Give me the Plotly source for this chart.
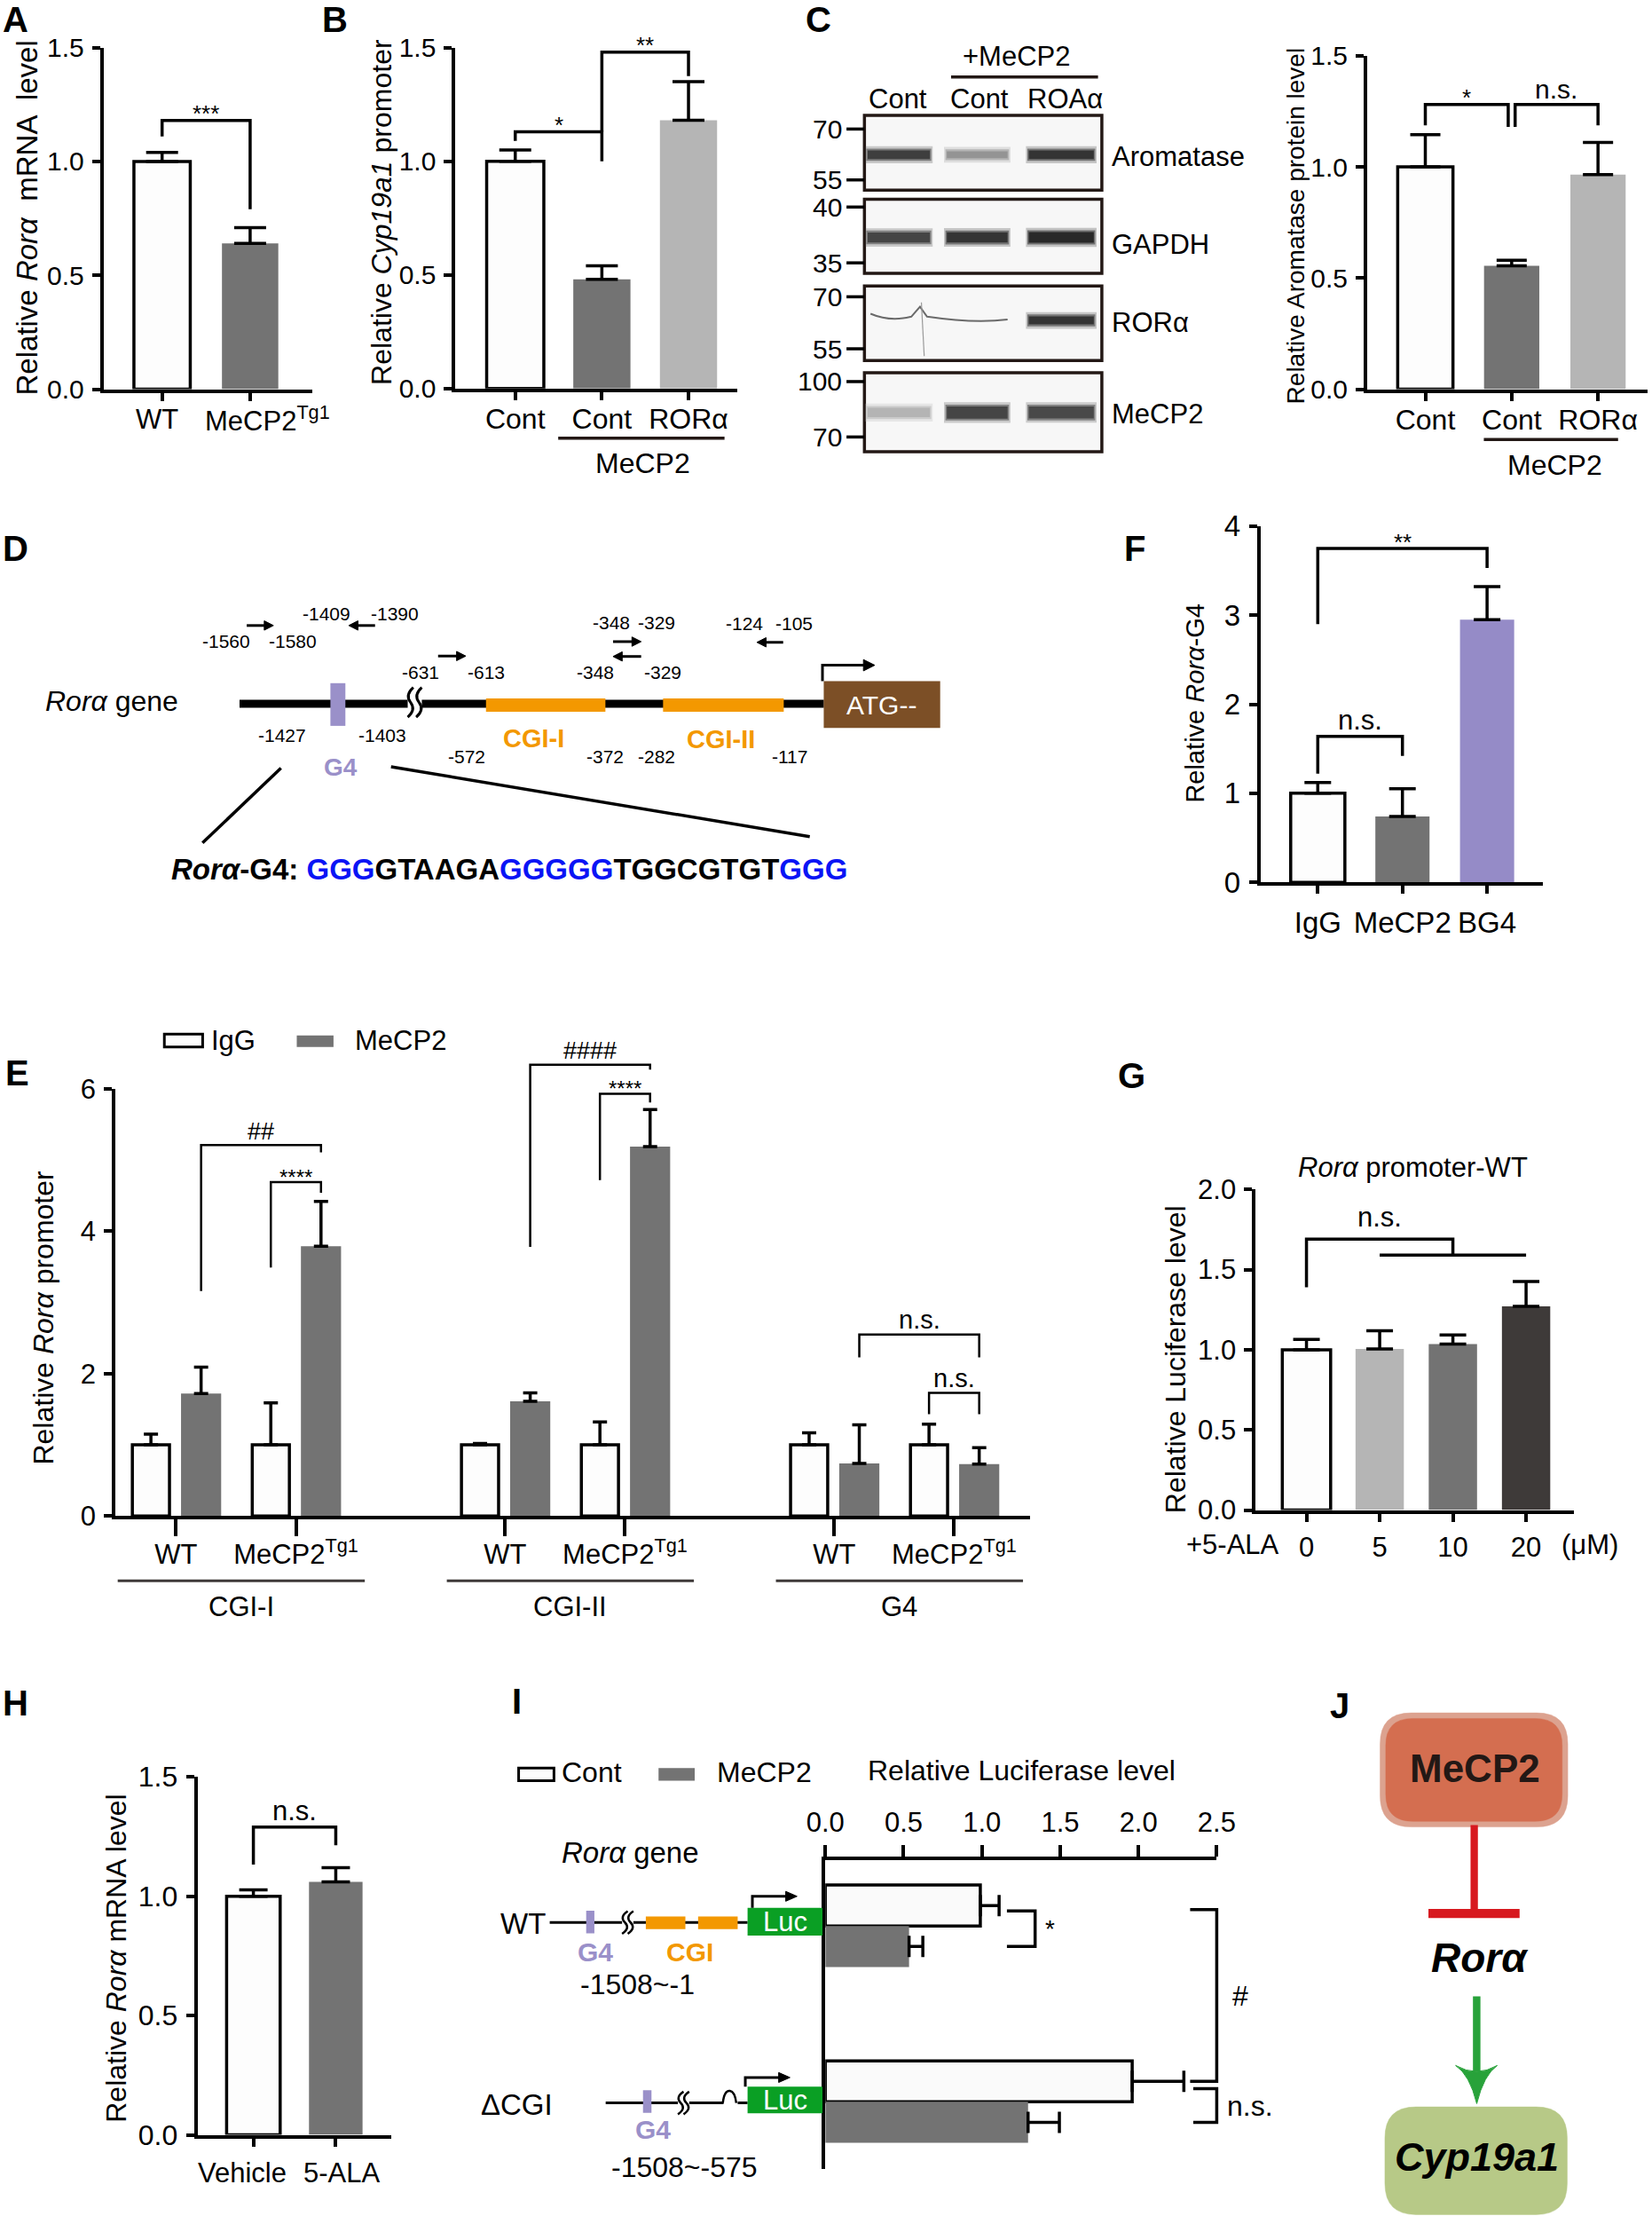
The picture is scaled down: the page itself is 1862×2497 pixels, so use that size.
import plotly.graph_objects as go

W, H = 1862, 2497
RX, RY = 1169.0, 1568.0          # layout grid (reference proportions)


def px(x):
    return x / RX


def py(y):
    return 1.0 - y / RY


def P(x, y):
    return f"{px(x):.6f},{py(y):.6f}"


FONT = "Liberation Sans, Arial, Helvetica, sans-serif"
NARROW = "Liberation Sans Narrow, Arial Narrow, Liberation Sans, Arial, sans-serif"
GRAY = "#737373"
LGRAY = "#B5B5B5"
DGRAY = "#3E3A39"
PURPLE = "#958BC7"
ORANGE = "#F39800"
WHITEBAR = "#FDFDFD"
G4C = "#9A90C9"
LUC = "#0A9F24"
BROWN = "#7C4F26"
BLUE = "#0A14F5"

# ---------------------------------------------------------------- DATA
# A  Relative Rora mRNA level
a_cats = ["WT", "MeCP2<sup>Tg1</sup>"]
a_vals = [1.00, 0.64]
a_sem = [0.04, 0.07]
# B  Relative Cyp19a1 promoter
b_cats = ["Cont", "Cont", "RORα"]
b_vals = [1.00, 0.48, 1.18]
b_sem = [0.05, 0.06, 0.17]
# C  Relative Aromatase protein level + western blot
c_cats = ["Cont", "Cont", "RORα"]
c_vals = [1.00, 0.555, 0.965]
c_sem = [0.145, 0.025, 0.145]
c_lanes = ["Cont", "Cont", "ROAα"]
c_blots = ["Aromatase", "GAPDH", "RORα", "MeCP2"]
c_markers = [["70", "55"], ["40", "35"], ["70", "55"], ["100", "70"]]
c_band_intensity = [[0.85, 0.45, 0.9], [0.82, 0.9, 0.95], [0.0, 0.0, 0.9], [0.3, 0.82, 0.8]]
# F  Relative Rora-G4
f_cats = ["IgG", "MeCP2", "BG4"]
f_vals = [1.00, 0.74, 2.95]
f_sem = [0.12, 0.31, 0.37]
# E  Relative Rora promoter (ChIP)
e_regions = ["CGI-I", "CGI-II", "G4"]
e_genotypes = ["WT", "MeCP2<sup>Tg1</sup>"]
e_antibodies = ["IgG", "MeCP2"]
e_igg = [1.00, 1.00, 1.00, 1.00, 1.00, 1.00]       # CGI-I WT, CGI-I Tg, CGI-II WT, CGI-II Tg, G4 WT, G4 Tg
e_igg_sem = [0.15, 0.59, 0.02, 0.32, 0.17, 0.29]
e_mecp2 = [1.72, 3.79, 1.61, 5.19, 0.74, 0.73]
e_mecp2_sem = [0.37, 0.63, 0.12, 0.52, 0.54, 0.23]
# G  Rora promoter-WT luciferase with 5-ALA
g_doses = ["0", "5", "10", "20"]
g_vals = [1.00, 1.005, 1.035, 1.27]
g_sem = [0.065, 0.113, 0.057, 0.156]
# H  Relative Rora mRNA level
h_cats = ["Vehicle", "5-ALA"]
h_vals = [1.00, 1.06]
h_sem = [0.027, 0.06]
# I  Relative luciferase level by construct
i_constructs = ["WT", "ΔCGI"]
i_cont = [0.99, 1.96]
i_cont_sem = [0.12, 0.33]
i_mecp2 = [0.535, 1.295]
i_mecp2_sem = [0.088, 0.20]

# ---------------------------------------------------------------- helpers
fig = go.Figure()
shapes, annos, axes = [], [], {}


def text(x, y, s, size, color="black", xa="center", ya="middle", angle=0, family=FONT):
    annos.append(dict(x=px(x), y=py(y), xref="paper", yref="paper", text=s, showarrow=False,
                      font=dict(family=family, size=size, color=color),
                      xanchor=xa, yanchor=ya, textangle=angle))


def seg(x0, y0, x1, y1, w=3.5, color="black"):
    shapes.append(dict(type="line", xref="paper", yref="paper", x0=px(x0), y0=py(y0),
                       x1=px(x1), y1=py(y1), line=dict(color=color, width=w)))


def box(x0, y0, x1, y1, fill, lc=None, lw=0, opacity=1.0):
    shapes.append(dict(type="rect", xref="paper", yref="paper", x0=px(x0), y0=py(y0),
                       x1=px(x1), y1=py(y1), fillcolor=fill,
                       line=dict(color=lc if lc else fill, width=lw), opacity=opacity))


def path(d, lc="black", lw=3.5, fill=None, opacity=1.0):
    shapes.append(dict(type="path", xref="paper", yref="paper", path=d,
                       line=dict(color=lc, width=lw), opacity=opacity,
                       fillcolor=fill if fill else "rgba(0,0,0,0)"))


def harrow(x0, x1, y, w=3, head=6.5, hh=3.3, color="black"):
    d = 1 if x1 > x0 else -1
    seg(x0, y, x1 - d * head * 0.7, y, w, color)
    path(f"M {P(x1 - d * head, y - hh)} L {P(x1, y)} L {P(x1 - d * head, y + hh)} Z",
         lc=color, lw=1, fill=color)


def brk(xc, yc, half_h, gap=8, w=3, erase_h=6):
    box(xc - gap / 2 - 1, yc - erase_h, xc + gap / 2 + 1, yc + erase_h, "white")
    for dx in (-gap / 2 + 1, gap / 2 - 1):
        x = xc + dx
        y0, y1 = yc - half_h, yc + half_h
        path(f"M {P(x + 2, y0)} Q {P(x - 4, (y0 + yc) / 2)} {P(x, yc)} "
             f"Q {P(x + 4, (yc + y1) / 2)} {P(x - 2, y1)}", lw=w)


def rrect(x0, y0, x1, y1, r, fill):
    d = (f"M {P(x0 + r, y0)} L {P(x1 - r, y0)} Q {P(x1, y0)} {P(x1, y0 + r)} "
         f"L {P(x1, y1 - r)} Q {P(x1, y1)} {P(x1 - r, y1)} L {P(x0 + r, y1)} "
         f"Q {P(x0, y1)} {P(x0, y1 - r)} L {P(x0, y0 + r)} Q {P(x0, y0)} {P(x0 + r, y0)} Z")
    path(d, lc=fill, lw=0.5, fill=fill)


class Panel:
    def __init__(self, idx, xpx, ypx, xr, yr):
        self.xpx, self.ypx, self.xr, self.yr = xpx, ypx, xr, yr
        s = "" if idx == 1 else str(idx)
        self.xa, self.ya = "x" + s, "y" + s
        self.xkey, self.ykey = "xaxis" + s, "yaxis" + s

    def X(self, v):
        f = (v - self.xr[0]) / (self.xr[1] - self.xr[0])
        return self.xpx[0] + f * (self.xpx[1] - self.xpx[0])

    def Y(self, v):
        f = (v - self.yr[0]) / (self.yr[1] - self.yr[0])
        return self.ypx[1] - f * (self.ypx[1] - self.ypx[0])


def xr_from(xpx, c0, slot):
    return ((xpx[0] - c0) / slot, (xpx[1] - c0) / slot)


def setup(p, xtv, xtt, ytv, ytt, xfs=32, yfs=33, xlen=9, ylen=9, xstand=4, ystand=3, lw=4,
          xfam=FONT, yfam=FONT, showx=True):
    axes[p.xkey] = dict(domain=[px(p.xpx[0]), px(p.xpx[1])], range=list(p.xr), anchor=p.ya,
                        showline=True, linecolor="black", linewidth=lw, ticks="outside",
                        ticklen=xlen, tickwidth=3.5, tickcolor="black", tickmode="array",
                        tickvals=xtv, ticktext=xtt, ticklabelstandoff=xstand, tickangle=0,
                        showticklabels=showx,
                        tickfont=dict(family=xfam, size=xfs, color="black"), automargin=False,
                        showgrid=False, zeroline=False, fixedrange=True)
    axes[p.ykey] = dict(domain=[py(p.ypx[1]), py(p.ypx[0])], range=list(p.yr), anchor=p.xa,
                        showline=True, linecolor="black", linewidth=lw, ticks="outside",
                        ticklen=ylen, tickwidth=3.5, tickcolor="black", tickmode="array",
                        tickvals=ytv, ticktext=ytt, ticklabelstandoff=ystand, automargin=False,
                        tickfont=dict(family=yfam, size=yfs, color="black"),
                        showgrid=False, zeroline=False, fixedrange=True)


def bars(p, pos, vals, sems, fills, outlined, width, capw, horizontal=False, name=""):
    lws = [3.5 if o else 0 for o in outlined]
    lcs = ["black" if o else f for o, f in zip(outlined, fills)]
    err = dict(type="data", array=sems, arrayminus=[0] * len(sems), symmetric=False,
               color="black", thickness=3.5, width=capw, visible=True)
    mk = dict(color=fills, line=dict(color=lcs, width=lws))
    if horizontal:
        fig.add_trace(go.Bar(y=pos, x=vals, orientation="h", width=width, marker=mk,
                             error_x=err, xaxis=p.xa, yaxis=p.ya, name=name, hoverinfo="skip"))
    else:
        fig.add_trace(go.Bar(x=pos, y=vals, width=width, marker=mk, error_y=err,
                             xaxis=p.xa, yaxis=p.ya, name=name, hoverinfo="skip"))


def bracket(p, xl, yl, xr_, yr_, ytop, label=None, lsize=26, lw=3.5, lyoff=None, lx=None):
    path(f"M {P(p.X(xl), p.Y(yl))} L {P(p.X(xl), p.Y(ytop))} L {P(p.X(xr_), p.Y(ytop))} "
         f"L {P(p.X(xr_), p.Y(yr_))}", lw=lw)
    if label:
        if lyoff is None:
            lyoff = -6 if set(label) == {"*"} else -1
        cx = p.X(lx) if lx is not None else (p.X(xl) + p.X(xr_)) / 2
        text(cx, p.Y(ytop) - lyoff, label, lsize, ya="bottom")


def ylabels(vals, fmt):
    return [fmt.format(v) for v in vals]


# ---------------------------------------------------------------- panel letters
for L, (lx, ly) in {"A": (11, 14), "B": (237, 14), "C": (579, 14), "D": (11, 388), "F": (803, 388),
                    "E": (12, 759), "G": (801, 761), "H": (11, 1205), "I": (366, 1204),
                    "J": (948, 1207)}.items():
    text(lx, ly, f"<b>{L}</b>", 40)

# ---------------------------------------------------------------- A
pA = Panel(1, (73.3, 221.0), (33.7, 275.4), xr_from((73.3, 221.0), 114.7, 62.3), (0, 1.5))
ytA = [0, 0.5, 1.0, 1.5]
setup(pA, [0, 1], a_cats, ytA, ylabels(ytA, "{:.1f}"), yfs=30, showx=False)
bars(pA, [0, 1], a_vals, a_sem, [WHITEBAR, GRAY], [True, False], 0.64, 18)
text(111, 296.5, a_cats[0], 31)
text(144, 296.5, a_cats[1], 31, xa="left")
text(19, 154, "Relative <i>Rorα</i>  mRNA  level", 33, angle=-90)
bracket(pA, 0, 1.11, 1, 0.79, 1.18, "***")

# ---------------------------------------------------------------- B
pB = Panel(2, (322.3, 522.0), (33.7, 274.9), xr_from((322.3, 522.0), 364.6, 61.3), (0, 1.5))
setup(pB, [0, 1, 2], b_cats, ytA, ylabels(ytA, "{:.1f}"), xstand=-6, yfs=30, xfs=32)
bars(pB, [0, 1, 2], b_vals, b_sem, [WHITEBAR, GRAY, LGRAY], [True, False, False], 0.66, 18)
text(270, 150, "Relative <i>Cyp19a1</i> promoter", 32, angle=-90)
bracket(pB, 0, 1.09, 1, 1.00, 1.13, "*")
bracket(pB, 1, 1.13, 2, 1.375, 1.48, "**")
seg(395, 310, 512.7, 310, 3.5, "#231815")
text(455, 328, "MeCP2", 32)

# ---------------------------------------------------------------- C blots
c_lane_x = [(613, 659), (669, 714), (727, 775)]
c_box_y = [(81.6, 134.5), (140.9, 193.4), (202.4, 255.1), (263.7, 319.6)]
c_band_y = [109.5, 168.0, 226.7, 291.9]
c_band_h = [3.2, 3.8, 3.0, 4.6]
c_marker_y = [(91.3, 127.3), (146.5, 186), (210, 246.8), (270, 309.2)]
for bi, (y0, y1) in enumerate(c_box_y):
    box(611.7, y0, 779.7, y1, "#F7F7F7", "#231815", 3.5)
    for li, (x0, x1) in enumerate(c_lane_x):
        it = c_band_intensity[bi][li]
        if it <= 0.05:
            continue
        yc = c_band_y[bi]
        hh = c_band_h[bi] * (0.6 + 0.4 * it)
        v = int(round(245 - 215 * it))
        col = f"rgb({v},{v},{v})"
        box(x0 - 1, yc - hh - 3.0, x1 + 1, yc + hh + 3.0, col, opacity=0.25)
        box(x0, yc - hh - 1.3, x1, yc + hh + 1.3, col, opacity=0.55)
        box(x0 + 1, yc - hh, x1 - 1, yc + hh, col)
    for my, ml in zip(c_marker_y[bi], c_markers[bi]):
        seg(599, my, 611.7, my, 3.5)
        text(597, my, ml, 30, xa="right")
    text(785.7, [110.9, 173, 228, 293][bi], c_blots[bi], 31, xa="left")
# faint non-specific RORa signal in lanes 1-2
path(f"M {P(616, 222)} Q {P(630, 228)} {P(645, 224)} L {P(651, 217)} L {P(656, 224)} "
     f"Q {P(690, 229)} {P(713, 226)}", lc="#6a6a6a", lw=2)
seg(652, 214, 654, 252, 1.2, "#9a9a9a")
for lx, ln in zip([635.6, 692.8, 754], c_lanes):
    text(lx, 70, ln, 31)
text(719, 40, "+MeCP2", 31)
seg(673, 54.5, 777, 54.5, 3.5, "#231815")

# ---------------------------------------------------------------- C bars
pC = Panel(3, (967.5, 1166.0), (39.4, 275.4), xr_from((967.5, 1166.0), 1008.6, 61.1), (0, 1.5))
setup(pC, [0, 1, 2], c_cats, ytA, ylabels(ytA, "{:.1f}"), xfs=32, yfs=30, xstand=-6)
bars(pC, [0, 1, 2], c_vals, c_sem, [WHITEBAR, GRAY, LGRAY], [True, False, False], 0.64, 17)
text(917, 160, "Relative Aromatase protein level", 28, angle=-90)
bracket(pC, 0, 1.187, 0.96, 1.18, 1.28, "*")
bracket(pC, 1.04, 1.18, 2, 1.187, 1.28, "n.s.", lsize=30)
seg(1050, 311, 1145, 311, 3.5, "#231815")
text(1100, 329, "MeCP2", 32)

# ---------------------------------------------------------------- D diagram
text(79, 496, "<i>Rorα</i> gene", 32)
seg(169.5, 498, 583, 498, 9)
brk(293.5, 497, 10.5, gap=8, w=3, erase_h=6)
box(233.8, 483.4, 244.4, 513.6, G4C)
box(343.9, 494.2, 428.4, 503.6, ORANGE)
box(469.2, 494.2, 554.6, 503.6, ORANGE)
box(582.9, 481.9, 665.3, 515.1, BROWN)
text(624, 499, "ATG--", 30, color="white")
path(f"M {P(582, 481.9)} L {P(582, 470.7)} L {P(612, 470.7)}", lw=3)
path(f"M {P(611, 466.7)} L {P(619, 470.7)} L {P(611, 474.7)} Z", lw=1, fill="black")
NUM = 21
for (nx, ny, nt) in [(160, 453.5, "-1560"), (207, 453.5, "-1580"), (231, 434, "-1409"),
                     (279.4, 434, "-1390"), (297.8, 475.4, "-631"), (344.2, 475.4, "-613"),
                     (432.5, 440.4, "-348"), (464.7, 440.4, "-329"), (421.3, 475.6, "-348"),
                     (469.2, 475.6, "-329"), (526.7, 441.4, "-124"), (562, 441.4, "-105"),
                     (199.9, 520, "-1427"), (270.4, 520, "-1403"), (330, 535.3, "-572"),
                     (428.4, 535.3, "-372"), (464.7, 535.3, "-282"), (558.6, 535.3, "-117")]:
    text(nx, ny, nt, NUM)
harrow(174.6, 193.5, 442.6)
harrow(265.4, 246.8, 442.6)
harrow(310, 329.6, 464.2)
harrow(433.8, 453.7, 454)
harrow(453.7, 433.8, 464.5)
harrow(554.2, 535.6, 454.5)
text(377.7, 522.2, "<b>CGI-I</b>", 29, color=ORANGE)
text(510.4, 523, "<b>CGI-II</b>", 29, color=ORANGE)
text(241, 543, "<b>G4</b>", 28, color=G4C)
seg(198.8, 543.5, 143.3, 596.4, 3.5)
seg(276.7, 542.5, 573, 592, 3.5)
seq = (f"<b><i>Rorα</i>-G4: <span style='color:{BLUE}'>GGG</span>GTAAGA"
       f"<span style='color:{BLUE}'>GGGGG</span>TGGCGTGT<span style='color:{BLUE}'>GGG</span></b>")
text(119.7, 615.3, seq, 33, xa="left")

# ---------------------------------------------------------------- F
pF = Panel(4, (892.0, 1092.0), (372.3, 624.3), xr_from((892.0, 1092.0), 932.5, 59.9), (0, 4))
ytF = [0, 1, 2, 3, 4]
setup(pF, [0, 1, 2], f_cats, ytF, [str(v) for v in ytF], xfs=33, yfs=33, xstand=4)
bars(pF, [0, 1, 2], f_vals, f_sem, [WHITEBAR, GRAY, PURPLE], [True, False, False], 0.64, 15)
text(846, 498, "Relative <i>Rorα</i>-G4", 29, angle=-90)
bracket(pF, 0, 2.90, 2, 3.53, 3.75, "**")
bracket(pF, 0, 1.22, 1, 1.42, 1.64, "n.s.", lsize=31)

# ---------------------------------------------------------------- E
E_PAIR, E_GROUP = 2.39, 6.56
e_igg_x, e_mec_x, e_tick_x, e_tick_t = [], [], [], []
for r in range(len(e_regions)):
    for g in range(len(e_genotypes)):
        base = r * E_GROUP + g * E_PAIR
        e_igg_x.append(base)
        e_mec_x.append(base + 1)
        e_tick_x.append(base + 0.5)
        e_tick_t.append(e_genotypes[g])
pE = Panel(5, (81.6, 728.7), (770.5, 1072.7), xr_from((81.6, 728.7), 106.8, 35.5), (0, 6))
ytE = [0, 2, 4, 6]
setup(pE, e_tick_x, e_tick_t, ytE, [str(v) for v in ytE], xfs=31, yfs=31, xlen=19, ylen=9,
      xstand=-6, lw=3.5)
bars(pE, e_igg_x, e_igg, e_igg_sem, [WHITEBAR] * 6, [True] * 6, 0.74, 8, name="IgG")
bars(pE, e_mec_x, e_mecp2, e_mecp2_sem, [GRAY] * 6, [False] * 6, 0.8, 8, name="MeCP2")
text(31, 932, "Relative <i>Rorα</i> promoter", 32, angle=-90)
EB = 2.5
bracket(pE, e_mec_x[0], 3.16, e_mec_x[1], 5.11, 5.21, "##", lsize=27, lw=EB)
bracket(pE, e_igg_x[1], 3.49, e_mec_x[1], 4.54, 4.69, "****", lsize=24, lw=EB)
bracket(pE, e_mec_x[2], 3.78, e_mec_x[3], 6.27, 6.34, "####", lsize=27, lw=EB)
bracket(pE, e_igg_x[3], 4.72, e_mec_x[3], 5.81, 5.93, "****", lsize=24, lw=EB)
bracket(pE, e_mec_x[4], 2.23, e_mec_x[5], 2.23, 2.55, "n.s.", lsize=29, lw=EB)
bracket(pE, e_igg_x[5], 1.43, e_mec_x[5], 1.43, 1.73, "n.s.", lsize=29, lw=EB)
for r, reg in enumerate(e_regions):
    xl = pE.X(e_igg_x[2 * r]) - 23.5
    xr_ = pE.X(e_mec_x[2 * r + 1]) + 31
    seg(xl, 1118.5, xr_, 1118.5, 3, "#3E3A39")
    text((xl + xr_) / 2, 1137, reg, 31)
# legend
box(116.3, 731.7, 143.4, 740.9, WHITEBAR, "black", 3)
text(148, 736.3, e_antibodies[0], 31, xa="left")
box(210, 732.6, 236, 740.9, GRAY)
text(250, 736.3, e_antibodies[1], 31, xa="left")

# ---------------------------------------------------------------- G
pG = Panel(6, (888.6, 1113.7), (841.6, 1068.5), xr_from((888.6, 1113.7), 924.5, 51.8), (0, 2.0))
ytG = [0, 0.5, 1.0, 1.5, 2.0]
setup(pG, [0, 1, 2, 3], g_doses, ytG, ylabels(ytG, "{:.1f}"), xfs=31, yfs=31, xstand=2)
bars(pG, [0, 1, 2, 3], g_vals, g_sem, [WHITEBAR, LGRAY, GRAY, DGRAY],
     [True, False, False, False], 0.66, 15)
text(832, 962, "Relative Luciferase level", 32, angle=-90)
text(1000, 826, "<i>Rorα</i> promoter-WT", 31)
path(f"M {P(pG.X(0), pG.Y(1.39))} L {P(pG.X(0), pG.Y(1.69))} L {P(pG.X(2), pG.Y(1.69))} "
     f"L {P(pG.X(2), pG.Y(1.59))}", lw=3.5)
seg(pG.X(1), pG.Y(1.59), pG.X(3), pG.Y(1.59), 3.5)
text(pG.X(1), pG.Y(1.69) - 3, "n.s.", 31, ya="bottom")
text(872.4, 1093, "+5-ALA", 31)
text(1125, 1093, "(μM)", 31)

# ---------------------------------------------------------------- H
pH = Panel(7, (139.8, 276.6), (1257.3, 1510.6), xr_from((139.8, 276.6), 179.3, 58.3), (0, 1.5))
setup(pH, [0, 1], h_cats, ytA, ylabels(ytA, "{:.1f}"), xfs=32, yfs=32, showx=False)
bars(pH, [0, 1], h_vals, h_sem, [WHITEBAR, GRAY], [True, False], 0.65, 16)
text(171.5, 1537.5, h_cats[0], 31)
text(242, 1537.5, h_cats[1], 31)
text(82.6, 1386, "Relative <i>Rorα</i> mRNA level", 32, angle=-90)
bracket(pH, 0, 1.133, 1, 1.214, 1.29, "n.s.", lsize=31)

# ---------------------------------------------------------------- I
I_GROUP = 4.29
i_cont_y = [c * I_GROUP for c in range(len(i_constructs))]
i_mec_y = [c * I_GROUP + 1 for c in range(len(i_constructs))]
i_top, i_bot, i_c0, i_slot = 1316.0, 1535.0, 1348.3, 29.0
pI = Panel(8, (584.0, 861.0), (i_top, i_bot), (0, 2.5),
           ((i_bot - i_c0) / i_slot, (i_top - i_c0) / i_slot))
xtI = [0, 0.5, 1.0, 1.5, 2.0, 2.5]
axes[pI.xkey] = dict(domain=[px(584.0), px(861.0)], range=[0, 2.5], anchor=pI.ya, side="top",
                     showline=True, linecolor="black", linewidth=3.5, ticks="outside", ticklen=13,
                     tickwidth=3.5, tickcolor="black", tickmode="array", tickvals=xtI,
                     ticktext=ylabels(xtI, "{:.1f}"), ticklabelstandoff=3, tickangle=0,
                     tickfont=dict(family=FONT, size=31, color="black"), automargin=False,
                     showgrid=False, zeroline=False, fixedrange=True)
axes[pI.ykey] = dict(domain=[py(i_bot), py(i_top)], range=list(pI.yr), anchor=pI.xa,
                     showline=True, linecolor="black", linewidth=3.5, ticks="", automargin=False,
                     showticklabels=False, showgrid=False, zeroline=False, fixedrange=True)
bars(pI, i_cont_y, i_cont, i_cont_sem, ["#FAFAFA"] * 2, [True] * 2, 1.0, 12, horizontal=True,
     name="Cont")
bars(pI, i_mec_y, i_mecp2, i_mecp2_sem, [GRAY] * 2, [False] * 2, 1.0, 12, horizontal=True,
     name="MeCP2")


def xbracket(p, y0, y1, xa_, xb, label, lx, lsize=30):
    path(f"M {P(p.X(xa_), p.Y(y0))} L {P(p.X(xb), p.Y(y0))} L {P(p.X(xb), p.Y(y1))} "
         f"L {P(p.X(xa_), p.Y(y1))}", lw=3.5)
    text(lx, (p.Y(y0) + p.Y(y1)) / 2, label, lsize)


xbracket(pI, i_cont_y[0] + 0.13, i_mec_y[0], 1.16, 1.34, "*", 743, 28)
xbracket(pI, i_cont_y[0] + 0.1, i_cont_y[1], 2.33, 2.5, "#", 878, 32)
xbracket(pI, i_cont_y[1] + 0.18, i_mec_y[1], 2.35, 2.5, "n.s.", 884.5, 32)
# legend + title
box(367, 1251, 392, 1260, WHITEBAR, "black", 3)
text(396, 1254, "Cont", 32, xa="left")
box(466, 1251, 491.6, 1260, GRAY)
text(506, 1254, "MeCP2", 32, xa="left")
text(723, 1253, "Relative Luciferase level", 32)
text(446, 1311, "<i>Rorα</i> gene", 33)
# WT construct
yW = 1360.3
seg(389, yW, 529, yW, 3)
brk(444.2, yW, 8, gap=6, w=2.5, erase_h=3)
box(414.8, 1352, 420.6, 1368, G4C)
box(457, 1356, 485, 1365, ORANGE)
box(494, 1356, 522, 1365, ORANGE)
box(529, 1350, 582, 1369.5, LUC)
text(555.5, 1359.8, "Luc", 31, color="white")
path(f"M {P(532.4, 1350)} L {P(532.4, 1341.8)} L {P(557, 1341.8)}", lw=3)
path(f"M {P(556, 1338.3)} L {P(564, 1341.8)} L {P(556, 1345.3)} Z", lw=1, fill="black")
text(370, 1361, i_constructs[0], 33)
text(421, 1381, "<b>G4</b>", 30, color=G4C)
text(488, 1381, "<b>CGI</b>", 30, color=ORANGE)
text(451.4, 1404.3, "-1508~-1", 32)
# dCGI construct
yD = 1488
seg(428.6, yD, 529, yD, 3)
brk(483.7, yD, 8, gap=6, w=2.5, erase_h=3)
box(512, yD - 3, 522, yD + 3, "white")
path(f"M {P(511.5, yD)} Q {P(512.5, yD - 9)} {P(516.5, yD - 8.5)} Q {P(520, yD - 8)} {P(521, yD)}",
     lw=2.5)
box(455, 1479, 461, 1495, G4C)
box(529, 1476.4, 582, 1495.3, LUC)
text(555.5, 1486, "Luc", 31, color="white")
path(f"M {P(527.4, 1476.4)} L {P(527.4, 1470)} L {P(552, 1470)}", lw=3)
path(f"M {P(551, 1466.5)} L {P(559, 1470)} L {P(551, 1473.5)} Z", lw=1, fill="black")
text(366, 1489, i_constructs[1], 33)
text(462, 1506.8, "<b>G4</b>", 30, color=G4C)
text(484.5, 1533.5, "-1508~-575", 32)

# ---------------------------------------------------------------- J
rrect(976.6, 1212, 1109.4, 1292.7, 22, "#DCA28F")
rrect(980.6, 1216, 1105.4, 1288.7, 19, "#D46E50")
text(1044, 1251, "<b>MeCP2</b>", 44, color="#231815")
box(1040.6, 1291.4, 1045.8, 1351, "#D7191F")
box(1010.8, 1350.8, 1075.3, 1357.2, "#D7191F")
text(1047, 1385.5, "<b><i>Rorα</i></b>", 46)
box(1042.3, 1412.6, 1047.6, 1466, "#28A23A")
path(f"M {P(1030, 1461.5)} Q {P(1040, 1468)} {P(1045, 1488.5)} Q {P(1050, 1468)} {P(1059.5, 1461.5)} "
     f"Q {P(1045, 1470)} {P(1030, 1461.5)} Z", lc="#28A23A", lw=1, fill="#28A23A")
rrect(980, 1490.8, 1109, 1567, 22, "#B7C987")
text(1044.7, 1526, "<b><i>Cyp19a1</i></b>", 45)

# ---------------------------------------------------------------- layout
fig.update_layout(width=W, height=H, autosize=False,
                  margin=dict(l=0, r=0, t=0, b=0, pad=0, autoexpand=False),
                  paper_bgcolor="white",
                  plot_bgcolor="rgba(0,0,0,0)", showlegend=False, barmode="overlay",
                  font=dict(family=FONT, color="black"), shapes=shapes, annotations=annos, **axes)
fig.write_html("out.html", config={"displayModeBar": False},
               post_script="document.body.style.margin='0px';document.body.style.padding='0px';")
